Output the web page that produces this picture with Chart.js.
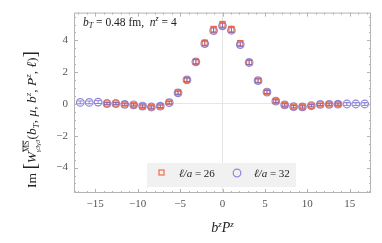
<!DOCTYPE html>
<html>
<head>
<meta charset="utf-8">
<script src="https://cdn.jsdelivr.net/npm/chart.js@4.4.1/dist/chart.umd.min.js"></script>
<style>
  html, body { margin: 0; padding: 0; background: #fff; }
  #wrap { width: 382px; height: 243px; }
</style>
</head>
<body>
<div id="wrap"><canvas id="chart" width="382" height="243"></canvas></div>
<script>
// b^z P^z values (z = -16 .. 16)
const bzPz32 = [-16.76, -15.71, -14.66, -13.61, -12.57, -11.52, -10.47, -9.42, -8.38, -7.33, -6.28,
  -5.24, -4.19, -3.14, -2.09, -1.05, 0, 1.05, 2.09, 3.14, 4.19, 5.24,
  6.28, 7.33, 8.38, 9.42, 10.47, 11.52, 12.57, 13.61, 14.66, 15.71, 16.76]
const bzPz26 = bzPz32.slice(3, 30)

// l/a = 26
const im26 = [0.03, 0.03, -0.02, -0.06, -0.14, -0.20, -0.14, 0.10, 0.72, 1.52, 2.66, 3.84, 4.70, 5.00,
  4.70, 3.82, 2.62, 1.47, 0.76, 0.18, -0.06, -0.18, -0.19, -0.11, -0.03, -0.02, -0.01]
const err26 = [0.07, 0.07, 0.07, 0.07, 0.08, 0.08, 0.08, 0.09, 0.1, 0.12, 0.14, 0.17, 0.19, 0.2,
  0.19, 0.18, 0.15, 0.12, 0.1, 0.09, 0.08, 0.08, 0.08, 0.07, 0.07, 0.07, 0.07]

// l/a = 32
const im32 = [0.10, 0.10, 0.12, 0.03, 0.03, -0.02, -0.05, -0.13, -0.19, -0.14, 0.08, 0.70, 1.52, 2.65,
  3.80, 4.62, 4.92, 4.64, 3.74, 2.61, 1.47, 0.75, 0.18, -0.06, -0.17, -0.18, -0.11, -0.03,
  -0.02, -0.01, 0.00, 0.00, 0.00]
const err32 = [0.09, 0.09, 0.09, 0.07, 0.07, 0.07, 0.07, 0.07, 0.07, 0.08, 0.08, 0.1, 0.11, 0.13,
  0.14, 0.15, 0.15, 0.15, 0.14, 0.13, 0.11, 0.1, 0.08, 0.08, 0.07, 0.07, 0.07, 0.07,
  0.07, 0.07, 0.09, 0.09, 0.09]

const xTicks = [-15, -10, -5, 0, 5, 10, 15]
const yTicks = [-4, -2, 0, 2, 4]
const labels = ['ℓ/a = 26', 'ℓ/a = 32']

const red = 'rgba(234, 98, 60, 0.85)'
const blue = 'rgba(116, 108, 204, 0.8)'
const serif = '"Liberation Serif", "DejaVu Serif", serif'

function toPoints(xs, ys) {
  return xs.map((x, i) => ({ x: x, y: ys[i] }))
}

function fmt(v) {
  return v < 0 ? '\u2212' + (-v) : '' + v
}

// draws a row of text pieces: {t, it, size, sub, sup, line, stack}
function richText(ctx, parts, x, y, align) {
  let total = 0
  for (const p of parts) {
    ctx.font = (p.it ? 'italic ' : '') + p.size + 'px ' + serif
    p.w = ctx.measureText(p.t).width
    if (!p.stack) total += p.w
  }
  let cx = align == 'center' ? x - total / 2 : x
  let lastX = cx, lastW = 0
  for (const p of parts) {
    ctx.font = (p.it ? 'italic ' : '') + p.size + 'px ' + serif
    let dy = 0
    if (p.sup) dy = -p.sup
    if (p.sub) dy = p.sub
    let px = p.stack ? lastX : cx
    ctx.fillText(p.t, px, y + dy)
    if (p.line) {
      ctx.fillRect(px, y + dy - p.size * 0.8, p.w, 0.8)
    }
    if (p.stack) {
      if (p.w > lastW) cx = px + p.w
    } else {
      lastX = cx
      lastW = p.w
      cx += p.w
    }
  }
}

const decorPlugin = {
  id: 'decor',
  afterDatasetsDraw(chart) {
    const ctx = chart.ctx
    const ys = chart.scales.y
    // error bars
    chart.data.datasets.forEach((ds, i) => {
      const meta = chart.getDatasetMeta(i)
      ctx.save()
      ctx.strokeStyle = ds.borderColor
      ctx.lineWidth = 1
      meta.data.forEach((el, j) => {
        const v = ds.data[j].y, e = ds.errors[j]
        const y1 = ys.getPixelForValue(v + e), y2 = ys.getPixelForValue(v - e)
        ctx.beginPath()
        ctx.moveTo(el.x, y1); ctx.lineTo(el.x, y2)
        ctx.moveTo(el.x - 3, y1); ctx.lineTo(el.x + 3, y1)
        ctx.moveTo(el.x - 3, y2); ctx.lineTo(el.x + 3, y2)
        ctx.stroke()
      })
      ctx.restore()
    })
  },
  afterDraw(chart) {
    const ctx = chart.ctx
    const a = chart.chartArea
    const xs = chart.scales.x, ys = chart.scales.y
    ctx.save()
    // frame
    ctx.strokeStyle = '#b4b4b4'
    ctx.lineWidth = 1
    ctx.strokeRect(a.left + 0.5, a.top + 0.5, a.right - a.left - 1, a.bottom - a.top - 1)
    // inward ticks
    ctx.beginPath()
    for (let v = -17; v <= 17; v++) {
      const px = Math.round(xs.getPixelForValue(v)) + 0.5
      const len = v % 5 == 0 ? 4 : 2
      ctx.moveTo(px, a.bottom); ctx.lineTo(px, a.bottom - len)
      ctx.moveTo(px, a.top); ctx.lineTo(px, a.top + len)
    }
    for (let v = -5.5; v <= 5.5; v += 0.5) {
      const py = Math.round(ys.getPixelForValue(v)) + 0.5
      const len = v % 2 == 0 ? 4 : 2
      ctx.moveTo(a.left, py); ctx.lineTo(a.left + len, py)
      ctx.moveTo(a.right, py); ctx.lineTo(a.right - len, py)
    }
    ctx.stroke()

    // annotation
    ctx.fillStyle = '#222'
    ctx.textBaseline = 'alphabetic'
    richText(ctx, [
      { t: 'b', it: true, size: 11.5 },
      { t: 'T', it: true, size: 8, sub: 2 },
      { t: ' = 0.48 fm,  ', size: 11.5 },
      { t: 'n', it: true, size: 11.5 },
      { t: 'z', it: true, size: 8, sup: 5 },
      { t: ' = 4', size: 11.5 }
    ], a.left + 9, 26, 'left')

    // legend
    ctx.fillStyle = '#f1f1f1'
    ctx.fillRect(147, 163, 149, 24)
    ctx.lineWidth = 1.3
    ctx.strokeStyle = 'rgba(236, 112, 80, 0.95)'
    ctx.strokeRect(159, 170, 5, 5)
    ctx.strokeStyle = 'rgba(140, 136, 212, 0.95)'
    ctx.beginPath()
    ctx.arc(237, 173, 3.8, 0, Math.PI * 2)
    ctx.stroke()
    ctx.fillStyle = '#222'
    const lab = (x, s) => richText(ctx, [
      { t: s.slice(0, 3), it: true, size: 11 },
      { t: s.slice(3), size: 11 }
    ], x, 177, 'left')
    lab(179, labels[0])
    lab(254, labels[1])

    // x title
    richText(ctx, [
      { t: 'b', it: true, size: 14 },
      { t: 'z', it: true, size: 9, sup: 5 },
      { t: 'P', it: true, size: 14 },
      { t: 'z', it: true, size: 9, sup: 5 }
    ], (a.left + a.right) / 2, 232, 'center')

    // y title
    ctx.translate(36, 120)
    ctx.rotate(-Math.PI / 2)
    richText(ctx, [
      { t: 'Im ', size: 13.5 },
      { t: '[', size: 19 },
      { t: 'W', it: true, size: 13.5 },
      { t: 'MS', size: 8, sup: 7, line: true },
      { t: 'γ3γ3', it: true, size: 7, sub: 4, stack: true },
      { t: '(', size: 13.5 },
      { t: 'b', it: true, size: 13.5 },
      { t: 'T', it: true, size: 9, sub: 3 },
      { t: ', ', size: 13.5 },
      { t: 'μ', it: true, size: 13.5 },
      { t: ', ', size: 13.5 },
      { t: 'b', it: true, size: 13.5 },
      { t: 'z', it: true, size: 9, sup: 5 },
      { t: ', ', size: 13.5 },
      { t: 'P', it: true, size: 13.5 },
      { t: 'z', it: true, size: 9, sup: 5 },
      { t: ', ', size: 13.5 },
      { t: 'ℓ', it: true, size: 13.5 },
      { t: ')', size: 13.5 },
      { t: ']', size: 19 }
    ], 0, 0, 'center')
    ctx.restore()
  }
}

const ctx = document.getElementById('chart').getContext('2d')
const chart = new Chart(ctx, {
  type: 'scatter',
  data: {
    datasets: [
      {
        label: labels[0],
        data: toPoints(bzPz26, im26),
        errors: err26,
        pointStyle: 'rect',
        pointRadius: 3.6,
        borderWidth: 1.3,
        borderColor: red,
        backgroundColor: 'rgba(255,255,255,0)'
      },
      {
        label: labels[1],
        data: toPoints(bzPz32, im32),
        errors: err32,
        pointStyle: 'circle',
        pointRadius: 3.8,
        borderWidth: 1.2,
        borderColor: blue,
        backgroundColor: 'rgba(255,255,255,0)'
      }
    ]
  },
  options: {
    responsive: false,
    animation: false,
    events: [],
    layout: { padding: { top: 10, right: 11, left: 0, bottom: 0 } },
    plugins: { legend: { display: false }, tooltip: { enabled: false } },
    scales: {
      x: {
        type: 'linear',
        min: -17.5,
        max: 17.5,
        afterBuildTicks: s => { s.ticks = xTicks.map(v => ({ value: v })) },
        afterFit: s => { s.height = 50 },
        ticks: { callback: fmt, font: { family: serif, size: 11 }, color: '#555', padding: 5, maxRotation: 0 },
        grid: { drawTicks: false, color: c => c.tick && c.tick.value == 0 ? '#e6e6e6' : 'rgba(0,0,0,0)' },
        border: { display: false }
      },
      y: {
        type: 'linear',
        min: -5.6,
        max: 5.75,
        afterBuildTicks: s => { s.ticks = yTicks.map(v => ({ value: v })) },
        afterFit: s => { s.width = 74 },
        ticks: { callback: fmt, font: { family: serif, size: 11 }, color: '#555', padding: 6 },
        grid: { drawTicks: false, color: c => c.tick && c.tick.value == 0 ? '#e6e6e6' : 'rgba(0,0,0,0)' },
        border: { display: false }
      }
    }
  },
  plugins: [decorPlugin]
})
</script>
</body>
</html>
